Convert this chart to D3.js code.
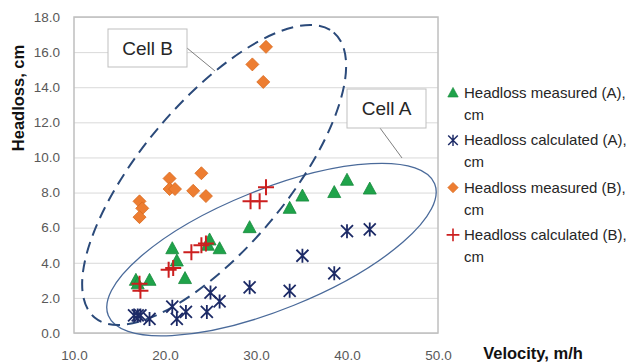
<!DOCTYPE html>
<html>
<head>
<meta charset="utf-8">
<script src="https://cdn.jsdelivr.net/npm/d3@7"></script>
<style>
  body { margin: 0; background: #fff; }
  svg { font-family: "Liberation Sans", Arial, sans-serif; }
</style>
</head>
<body>
<div id="chart"></div>
<script>
// series values: [velocity m/h, headloss cm]
const measuredA = [[16.8,3.0],[17.0,2.8],[18.3,3.0],[20.8,4.8],[21.3,4.1],[22.2,3.1],[24.7,5.0],[24.9,5.3],
  [26.0,4.8],[29.3,6.0],[33.7,7.1],[35.1,7.8],[38.6,8.0],[40.0,8.7],[42.5,8.2]];
const calculatedA = [[16.6,1.0],[17.0,1.0],[17.3,1.0],[18.3,0.8],[20.8,1.5],[21.3,0.8],[22.3,1.2],[24.6,1.2],
  [25.0,2.3],[26.0,1.8],[29.3,2.6],[33.7,2.4],[35.1,4.4],[38.6,3.4],[40.0,5.8],[42.5,5.9]];
const measuredB = [[17.2,7.5],[17.5,7.1],[17.2,6.6],[20.5,8.8],[20.5,8.2],[21.1,8.2],[23.1,8.1],[24.0,9.1],
  [24.5,7.8],[29.6,15.3],[30.8,14.3],[31.1,16.3]];
const calculatedB = [[17.2,2.8],[17.3,2.4],[20.4,3.6],[20.9,3.7],[22.9,4.6],[24.0,5.0],[24.5,5.1],
  [29.4,7.5],[30.4,7.5],[31.1,8.3]];

const xTicks = [10, 20, 30, 40, 50];
const yTicks = [0, 2, 4, 6, 8, 10, 12, 14, 16, 18];
const legendLabels = ["Headloss measured (A),", "Headloss calculated (A),", "Headloss measured (B),", "Headloss calculated (B),"];

var width = 631, height = 362;
var margin = {top: 17, right: 193, bottom: 29, left: 74};
var plotW = width - margin.left - margin.right,
    plotH = height - margin.top - margin.bottom;

var svg = d3.select("#chart").append("svg")
    .attr("width", width)
    .attr("height", height);

var x = d3.scaleLinear().domain([10, 50]).range([0, plotW]);
var y = d3.scaleLinear().domain([0, 18]).range([plotH, 0]);

var g = svg.append("g").attr("transform", "translate(" + margin.left + "," + margin.top + ")");

// gridlines
g.append("g")
    .call(d3.axisLeft(y).tickValues(yTicks).tickSize(-plotW).tickFormat(""))
    .call(s => s.select(".domain").remove())
    .selectAll("line").attr("stroke", "#d9d9d9");

// plot border
g.append("rect")
    .attr("width", plotW).attr("height", plotH)
    .attr("fill", "none").attr("stroke", "#bfbfbf").attr("stroke-width", 1.5);

// y axis labels
var yAxis = g.append("g")
    .call(d3.axisLeft(y).tickValues(yTicks).tickSize(0).tickPadding(14).tickFormat(d3.format(".1f")));
yAxis.select(".domain").remove();
yAxis.selectAll("text").attr("font-size", 13.5).attr("fill", "#595959")
    .attr("font-family", "Liberation Sans, Arial, sans-serif");

var xAxis = g.append("g")
    .attr("transform", "translate(0," + plotH + ")")
    .call(d3.axisBottom(x).tickValues(xTicks).tickSize(0).tickPadding(17).tickFormat(d3.format(".1f")));
xAxis.select(".domain").remove();
xAxis.selectAll("text").attr("font-size", 13.5).attr("fill", "#595959")
    .attr("font-family", "Liberation Sans, Arial, sans-serif");

svg.append("text")
    .attr("transform", "translate(24,98) rotate(-90)")
    .attr("text-anchor", "middle")
    .attr("font-size", 16.5).attr("font-weight", "bold").attr("fill", "#111")
    .text("Headloss, cm");

svg.append("text")
    .attr("x", 533).attr("y", 359)
    .attr("text-anchor", "middle")
    .attr("font-size", 16.5).attr("font-weight", "bold").attr("fill", "#111")
    .text("Velocity, m/h");

// cell ellipses (centre in data units, radii in px)
function ellipse(cx, cy, rx, ry, angle) {
    return g.append("ellipse")
        .attr("transform", "translate(" + x(cx) + "," + y(cy) + ") rotate(" + angle + ")")
        .attr("rx", rx).attr("ry", ry).attr("fill", "none");
}
ellipse(31.7, 4.75, 176, 60, -22).attr("stroke", "#4a6a9a").attr("stroke-width", 1.3);
ellipse(25.4, 9.0, 186, 73, -50).attr("stroke", "#2b4a7a").attr("stroke-width", 2)
    .attr("stroke-dasharray", "12,7");

// markers
var triPath = "M0,-7L6.5,5L-6.5,5Z";
function drawTri(sel) {
    sel.append("path").attr("d", triPath).attr("fill", "#1fa34a").attr("stroke", "#178a3c").attr("stroke-width", 0.8);
}
function drawStar(sel) {
    sel.append("path").attr("d", "M-6,-6L6,6M-6,6L6,-6M0,-7L0,7")
        .attr("stroke", "#1c2a66").attr("stroke-width", 1.8).attr("fill", "none");
}
function drawDiamond(sel) {
    sel.append("path").attr("d", "M0,-6.5L6.5,0L0,6.5L-6.5,0Z")
        .attr("fill", "#ed7d31").attr("stroke", "#d8691e").attr("stroke-width", 0.8);
}
function drawPlus(sel) {
    sel.append("path").attr("d", "M-8,0L8,0M0,-8L0,8")
        .attr("stroke", "#cc1f1f").attr("stroke-width", 2).attr("fill", "none");
}

function plotSeries(data, draw) {
    g.append("g").selectAll("g")
        .data(data)
        .enter().append("g")
        .attr("transform", d => "translate(" + x(d[0]) + "," + y(d[1]) + ")")
        .each(function() { draw(d3.select(this)); });
}
plotSeries(measuredB, drawDiamond);
plotSeries(calculatedA, drawStar);
plotSeries(measuredA, drawTri);
plotSeries(calculatedB, drawPlus);

// callouts
function callout(bx, by, bw, bh, text, lx1, ly1, lx2, ly2) {
    svg.append("line").attr("x1", lx1).attr("y1", ly1).attr("x2", lx2).attr("y2", ly2)
        .attr("stroke", "#7f7f7f").attr("stroke-width", 1);
    svg.append("rect").attr("x", bx).attr("y", by).attr("width", bw).attr("height", bh)
        .attr("fill", "#fff").attr("stroke", "#bfbfbf").attr("stroke-width", 1);
    svg.append("text").attr("x", bx + bw / 2).attr("y", by + bh / 2 + 6.5)
        .attr("text-anchor", "middle").attr("font-size", 19).attr("fill", "#262626")
        .text(text);
}
callout(108, 29, 79, 38, "Cell B", 187, 48, 215, 71);
callout(347, 89, 79, 39, "Cell A", 380, 128, 402, 158);

// legend
var legend = svg.append("g").attr("transform", "translate(453,93)");
var legendDraw = [drawTri, drawStar, drawDiamond, drawPlus];
legendLabels.forEach(function(lbl, i) {
    var row = legend.append("g").attr("transform", "translate(0," + (i * 47.3) + ")");
    var m = row.append("g").attr("transform", "scale(0.8)");
    legendDraw[i](m);
    row.append("text").attr("x", 11).attr("y", 5).attr("font-size", 15).attr("fill", "#262626").text(lbl);
    row.append("text").attr("x", 11).attr("y", 27).attr("font-size", 15).attr("fill", "#262626").text("cm");
});
</script>
</body>
</html>
